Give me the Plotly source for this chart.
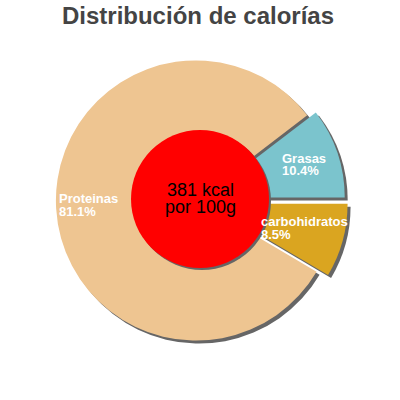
import plotly.graph_objects as go

# Data
labels = ["Grasas", "carbohidratos", "Proteinas"]
values = [10.4, 8.5, 81.1]
colors = ["#7bc4cd", "#daa520", "#eec591"]
pulls = [0.065, 0.085, 0]
kcal_text = ["381 kcal", "por 100g"]
title_text = "Distribución de calorías"

W = 400
H = 400

def px_x(v):
    return v / W

def px_y(v):
    return 1 - v / H

# pie placement (pixels)
cx, cy, half = 196, 200.5, 152
dom_x = [px_x(cx - half), px_x(cx + half)]
dom_y = [px_y(cy + half), px_y(cy - half)]
sh = 3  # shadow offset

fig = go.Figure()

# Shadow pie
fig.add_trace(go.Pie(
    labels=labels, values=values, sort=False, direction="clockwise",
    rotation=90 - values[0] * 3.6, pull=pulls,
    marker=dict(colors=["#666666"] * 3, line=dict(width=0)),
    textinfo="none", hoverinfo="skip", showlegend=False,
    domain=dict(x=[dom_x[0] + px_x(sh), dom_x[1] + px_x(sh)],
                y=[dom_y[0] - sh / H, dom_y[1] - sh / H]),
))

# Main pie
fig.add_trace(go.Pie(
    labels=labels, values=values, sort=False, direction="clockwise",
    rotation=90 - values[0] * 3.6, pull=pulls,
    marker=dict(colors=colors, line=dict(width=0)),
    textinfo="none", showlegend=False,
    domain=dict(x=dom_x, y=dom_y),
))

# Red centre circle with shadow
rcx, rcy, rr = 200, 199, 69
fig.add_shape(type="circle", xref="paper", yref="paper",
              x0=px_x(rcx - rr + 2), x1=px_x(rcx + rr + 2),
              y0=px_y(rcy + rr + 2), y1=px_y(rcy - rr + 2),
              fillcolor="#666666", line=dict(width=0))
fig.add_shape(type="circle", xref="paper", yref="paper",
              x0=px_x(rcx - rr), x1=px_x(rcx + rr),
              y0=px_y(rcy + rr), y1=px_y(rcy - rr),
              fillcolor="#ff0000", line=dict(width=0))

# Slice labels
label_pos = [(280, 158, 170.5), (259, 221.5, 234.5), (57, 198, 211)]
lab_font = dict(family="Liberation Sans, Arial", size=13, color="white")
for i, (lx, ly1, ly2) in enumerate(label_pos):
    fig.add_annotation(x=px_x(lx), y=px_y(ly1), xref="paper", yref="paper",
                       text="<b>" + labels[i] + "</b>", showarrow=False,
                       xanchor="left", yanchor="middle", font=lab_font)
    fig.add_annotation(x=px_x(lx), y=px_y(ly2), xref="paper", yref="paper",
                       text="<b>" + str(values[i]) + "%</b>", showarrow=False,
                       xanchor="left", yanchor="middle", font=lab_font)

# Centre text
for txt, ty in zip(kcal_text, [189.5, 206.5]):
    fig.add_annotation(x=px_x(200), y=px_y(ty), xref="paper", yref="paper",
                       text=txt, showarrow=False, xanchor="center", yanchor="middle",
                       font=dict(family="Liberation Sans, Arial", size=18, color="black"))

fig.update_layout(
    width=W, height=H,
    margin=dict(l=0, r=0, t=0, b=0),
    paper_bgcolor="white", plot_bgcolor="white",
    title=dict(text="<b>" + title_text + "</b>", x=0.495, xanchor="center",
               y=px_y(16), yanchor="middle",
               font=dict(family="Liberation Sans, Arial", size=24, color="#444444")),
)

fig.write_html("out.html", config=dict(displayModeBar=False),
               post_script="document.body.style.margin='0';")
